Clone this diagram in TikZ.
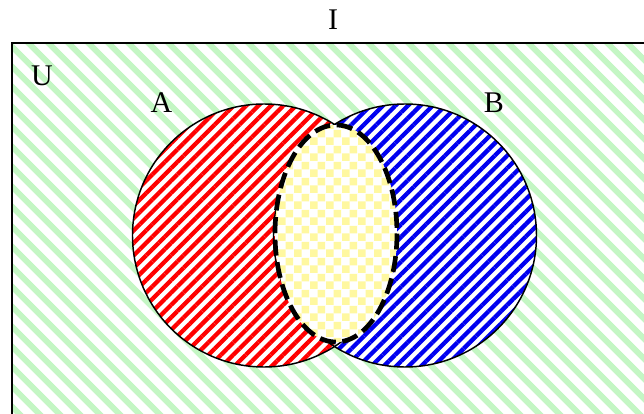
\documentclass[tikz,border=0pt]{standalone}
\usepackage{fontspec}
\setmainfont{Liberation Serif}
\usetikzlibrary{patterns.meta}
\definecolor{ugreen}{RGB}{196,246,196}
\definecolor{ured}{RGB}{255,0,0}
\definecolor{ublue}{RGB}{0,0,240}
\definecolor{uyellow}{RGB}{255,248,160}
\tikzdeclarepattern{
  name=checker,
  type=uncolored,
  bounding box={(0,0) and (11.6pt,11.6pt)},
  tile size={(11.6pt,11.6pt)},
  code={
    \fill (0,0) rectangle (5.85pt,5.85pt);
    \fill (5.8pt,5.8pt) rectangle (11.65pt,11.65pt);
  }
}
\tikzset{
  lbl/.style={font=\fontsize{22.5}{27}\selectfont, inner sep=0pt, anchor=base},
  setline/.style={draw=black, line width=1.1pt},
}
\begin{document}
\begin{tikzpicture}[x=0.75pt,y=-0.75pt]
\useasboundingbox (0,0) rectangle (644,414);
\begin{scope}
\clip (0,0) rectangle (644,414);
% universe
\fill[white] (12,43) rectangle (660,430);
\fill[pattern={Lines[angle=-45,distance=10.5pt,line width=4.5pt]}, pattern color=ugreen] (12,43) rectangle (660,430);
\draw[black, line width=1.5pt] (660,43) -- (12,43) -- (12,430);
% set A
\fill[white] (264,235.5) circle[radius=131.5];
\fill[pattern={Lines[angle=45,distance=6.6pt,line width=3.2pt]}, pattern color=ured] (264,235.5) circle[radius=131.5];
% set B (right of the radical line)
\begin{scope}
\clip (334.5,0) rectangle (644,414);
\fill[white] (405,235.5) circle[radius=131.5];
\fill[pattern={Lines[angle=45,distance=6.6pt,line width=3.2pt]}, pattern color=ublue] (405,235.5) circle[radius=131.5];
\end{scope}
\draw[setline] (264,235.5) circle[radius=131.5];
\draw[setline] (405,235.5) circle[radius=131.5];
% intersection ellipse
\fill[white] (336,233.5) ellipse[x radius=61, y radius=108.5];
\fill[pattern=checker, pattern color=uyellow] (336,233.5) ellipse[x radius=61, y radius=108.5];
\draw[black, line width=3.5pt, dash pattern=on 12pt off 5pt] (336,233.5) ellipse[x radius=61, y radius=108.5];
\end{scope}
% labels
\node[lbl] (labI) at (333,29) {I};
\node[lbl] (labU) at (42,85) {U};
\node[lbl] (labA) at (161.5,113) {A};
\node[lbl] (labB) at (494,112) {B};
\end{tikzpicture}
\end{document}
